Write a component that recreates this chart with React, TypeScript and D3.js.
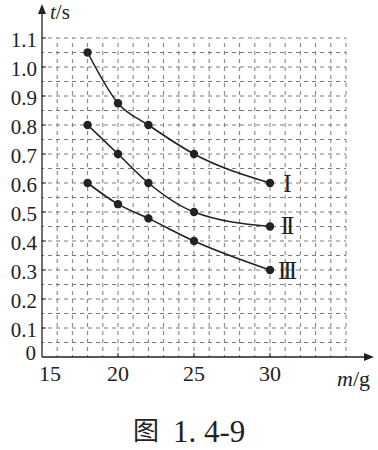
import React from "react";
import * as d3 from "d3";

const massValues = [18, 20, 22, 25, 30];
const seriesI = [1.05, 0.875, 0.8, 0.7, 0.6];
const seriesII = [0.8, 0.7, 0.6, 0.5, 0.45];
const seriesIII = [0.6, 0.527, 0.478, 0.4, 0.3];
const seriesNames = ["I", "II", "III"];
const xTicks = [15, 20, 25, 30];
const yTicks = [0, 0.1, 0.2, 0.3, 0.4, 0.5, 0.6, 0.7, 0.8, 0.9, 1.0, 1.1];

export default function App() {
  const W = 378, H = 450;
  const x = d3.scaleLinear().domain([15, 35]).range([42, 346]);
  const y = d3.scaleLinear().domain([0, 1.1]).range([357, 38]);
  const series = [seriesI, seriesII, seriesIII];
  const line = d3
    .line<number>()
    .x((_, i) => x(massValues[i]))
    .y((d) => y(d))
    .curve(d3.curveMonotoneX);

  const gridX = d3.range(15, 35.01, 1);
  const gridY = d3.range(0, 1.1001, 0.05);
  const serif = "Liberation Serif";
  const labelOffsets = [0, -2, 0];

  return (
    <svg width={W} height={H} style={{ position: "absolute", left: 0, top: 0, background: "#fff" }}>
      <rect width={W} height={H} fill="#fff" />
      <g stroke="#7a7a7a" strokeWidth={1} strokeDasharray="4 4">
        {gridX.slice(1).map((v) => (
          <line key={"gx" + v} x1={x(v)} x2={x(v)} y1={y(0)} y2={y(1.1)} strokeDashoffset={2} />
        ))}
        {gridY.slice(1).map((v) => (
          <line key={"gy" + v} x1={x(15)} x2={x(35)} y1={y(v)} y2={y(v)} strokeDashoffset={2} />
        ))}
      </g>
      {/* axes */}
      <line x1={x(15)} x2={x(15)} y1={y(0)} y2={10} stroke="#222" strokeWidth={1.3} />
      <path d={`M${x(15)},4 L${x(15) - 4},14 L${x(15) + 4},14 Z`} fill="#222" />
      <line x1={x(15)} x2={368} y1={y(0)} y2={y(0)} stroke="#222" strokeWidth={1.3} />
      <path d={`M374,${y(0)} L364,${y(0) - 4} L364,${y(0) + 4} Z`} fill="#222" />
      {yTicks.slice(1).map((v) => (
        <line key={"yt" + v} x1={x(15)} x2={x(15) + 4} y1={y(v)} y2={y(v)} stroke="#222" strokeWidth={1} />
      ))}
      {xTicks.slice(1).map((v) => (
        <line key={"xt" + v} x1={x(v)} x2={x(v)} y1={y(0)} y2={y(0) - 4} stroke="#222" strokeWidth={1} />
      ))}
      {/* tick labels */}
      {yTicks.map((v) => (
        <text
          key={"yl" + v}
          x={v === 0 ? 36 : 37}
          y={v === 0 ? y(v) + 3 : y(v) + 9}
          textAnchor="end"
          style={{ fontFamily: serif }}
          fontSize={21}
          fill="#222"
        >
          {v === 0 ? "0" : v.toFixed(1)}
        </text>
      ))}
      {xTicks.map((v) => (
        <text
          key={"xl" + v}
          x={v === 15 ? x(v) + 8 : x(v)}
          y={381}
          textAnchor="middle"
          style={{ fontFamily: serif }}
          fontSize={22}
          fill="#222"
        >
          {v}
        </text>
      ))}
      {/* axis titles */}
      <text x={50} y={19} style={{ fontFamily: serif }} fontSize={21} fill="#222">
        <tspan fontStyle="italic">t</tspan>/s
      </text>
      <text x={337} y={386} style={{ fontFamily: serif }} fontSize={22} fill="#222">
        <tspan fontStyle="italic">m</tspan>/g
      </text>
      {/* series */}
      {series.map((s, si) => (
        <g key={"s" + si}>
          <path d={line(s) || ""} fill="none" stroke="#222" strokeWidth={1.6} />
          {s.map((v, i) => (
            <circle key={i} cx={x(massValues[i])} cy={y(v)} r={4.2} fill="#222" />
          ))}
          <text
            x={x(massValues[massValues.length - 1]) + 16}
            y={y(s[s.length - 1]) + 9 + labelOffsets[si]}
            textAnchor="middle"
            style={{ fontFamily: serif, letterSpacing: "-3px" }}
            fontSize={25}
            fill="#222"
          >
            {seriesNames[si]}
          </text>
        </g>
      ))}
      {/* caption */}
      <text x={133} y={440} style={{ fontFamily: "Noto Sans CJK SC" }} fontSize={26} fill="#222">
        图
      </text>
      <text x={173} y={442} style={{ fontFamily: serif }} fontSize={31} fill="#222">
        1. 4-9
      </text>
    </svg>
  );
}
